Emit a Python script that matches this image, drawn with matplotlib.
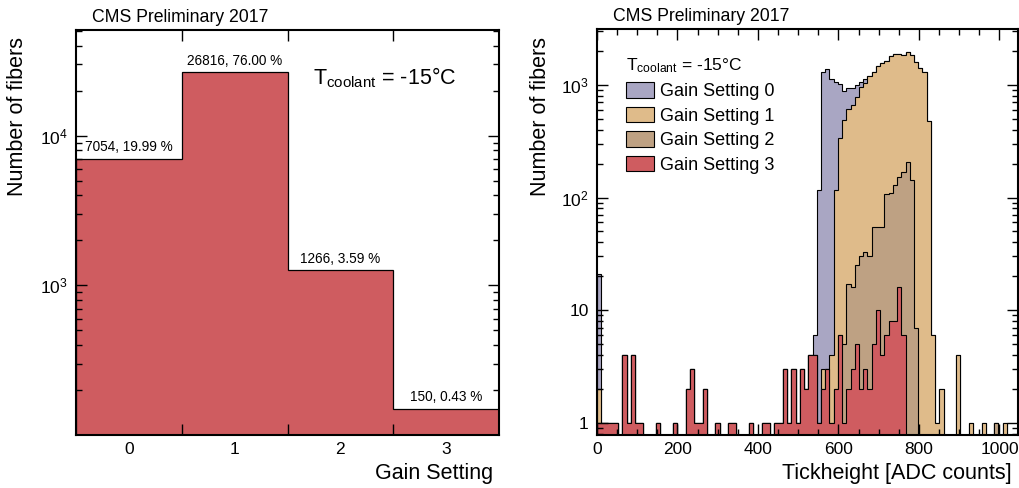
import numpy as np
import matplotlib
matplotlib.use("Agg")
import matplotlib.pyplot as plt
from matplotlib.patches import Patch
from matplotlib.ticker import FixedLocator, FixedFormatter, LogLocator, NullFormatter, MultipleLocator

plt.rcParams["font.family"] = ["Liberation Sans", "DejaVu Sans"]
plt.rcParams["mathtext.fontset"] = "custom"
plt.rcParams["mathtext.rm"] = "Liberation Sans"
plt.rcParams["mathtext.it"] = "Liberation Sans:italic"
plt.rcParams["mathtext.bf"] = "Liberation Sans:bold"

# left panel: number of fibers per gain setting
gain_settings = [0, 1, 2, 3]
fiber_counts = [7054, 26816, 1266, 150]

# right panel: tickheight histograms, 100 bins from 0 to 1050 ADC counts
tick_lo, tick_hi, n_bins = 0, 1050, 100
gain0_counts = [
    19, 0, 0, 0, 0, 0, 0, 0, 0, 0,
    0, 0, 0, 0, 0, 0, 0, 0, 0, 0,
    0, 0, 0, 0, 0, 0, 0, 0, 0, 0,
    0, 0, 0, 0, 0, 0, 0, 0, 0, 0,
    0, 0, 0, 0, 0, 0, 0, 0, 0, 0,
    0, 2, 116, 1287, 1367, 1126, 933, 674, 401, 323,
    277, 203, 96, 73, 0, 0, 0, 0, 0, 0,
    0, 0, 0, 0, 0, 0, 0, 0, 0, 0,
    0, 0, 0, 0, 0, 0, 0, 0, 0, 0,
    0, 0, 0, 0, 0, 0, 0, 0, 0, 0,
]
gain1_counts = [
    1, 0, 0, 0, 0, 0, 0, 0, 0, 0,
    0, 0, 0, 0, 0, 0, 0, 0, 0, 0,
    0, 0, 0, 0, 0, 0, 0, 0, 0, 0,
    0, 0, 0, 0, 0, 0, 0, 0, 0, 0,
    0, 0, 0, 0, 0, 0, 0, 0, 0, 0,
    0, 0, 0, 1, 0, 3, 115, 330, 484, 590,
    647, 762, 934, 1014, 1160, 1255, 1405, 1495, 1527, 1690,
    1752, 1727, 1682, 1734, 1707, 1600, 1403, 1292, 478, 6,
    1, 2, 0, 0, 0, 4, 0, 0, 1, 0,
    0, 1, 0, 0, 0, 0, 1, 0, 0, 0,
]
gain2_counts = [
    0, 0, 0, 0, 0, 0, 0, 0, 0, 0,
    0, 0, 0, 0, 0, 0, 0, 0, 0, 0,
    0, 0, 0, 0, 0, 0, 0, 0, 0, 0,
    0, 0, 0, 0, 0, 0, 0, 0, 0, 0,
    0, 0, 0, 0, 0, 0, 0, 0, 0, 0,
    0, 0, 0, 0, 0, 0, 0, 0, 4, 15,
    13, 20, 28, 30, 28, 50, 45, 51, 102, 102,
    120, 137, 162, 206, 143, 7, 0, 0, 0, 0,
    0, 0, 0, 0, 0, 0, 0, 0, 0, 0,
    0, 0, 0, 0, 1, 0, 0, 0, 0, 0,
]
gain3_counts = [
    1, 1, 1, 1, 1, 0, 4, 1, 4, 1,
    1, 0, 0, 0, 1, 0, 0, 0, 1, 0,
    0, 2, 3, 1, 1, 2, 0, 0, 1, 0,
    0, 1, 1, 0, 0, 0, 1, 0, 0, 1,
    1, 0, 1, 1, 3, 1, 3, 1, 3, 2,
    4, 4, 1, 2, 3, 1, 2, 6, 1, 2,
    3, 5, 2, 3, 2, 5, 10, 4, 6, 8,
    8, 16, 6, 0, 0, 0, 0, 0, 0, 0,
    0, 0, 0, 0, 0, 0, 0, 0, 0, 0,
    0, 0, 0, 0, 0, 0, 0, 0, 0, 0,
]
legend_labels = ["Gain Setting 0", "Gain Setting 1", "Gain Setting 2", "Gain Setting 3"]
colours = ["#a9a6c3", "#dfbb8a", "#bea183", "#cf5c60"]

t_label = r"$\mathrm{T}_{\mathrm{coolant}}$ = -15°C"

W, H = 1019, 488
fig = plt.figure(figsize=(W / 100, H / 100), dpi=100)
ax1 = fig.add_axes([76 / W, 53 / H, 423 / W, 405 / H])
ax2 = fig.add_axes([597 / W, 53 / H, 421 / W, 406 / H])


def root_style(ax):
    for sp in ax.spines.values():
        sp.set_linewidth(1.5)
    ax.tick_params(which="both", direction="in", top=True, right=True, width=1.0,
                   labelsize=12.5)
    ax.tick_params(which="major", length=8)
    ax.tick_params(which="minor", length=4.5)
    ax.tick_params(axis="x", which="both", pad=5)
    ax.tick_params(axis="y", which="both", pad=6)


# ---- left: gain setting distribution
edges1 = np.arange(len(gain_settings) + 1) - 0.5
ax1.stairs(fiber_counts, edges1, baseline=1, fill=True,
           facecolor=colours[3], edgecolor="none")
ax1.stairs(fiber_counts, edges1, baseline=1, color="black", lw=0.9)
ax1.set_yscale("log")
ax1.set_xlim(-0.5, 3.5)
ax1.set_ylim(100, 51000)
total = sum(fiber_counts)
for g, c in zip(gain_settings, fiber_counts):
    ax1.annotate(f"{c}, {100 * c / total:.2f} %", (g, c), xytext=(0, 3),
                 textcoords="offset points", ha="center", va="bottom", fontsize=9.8)
root_style(ax1)
ax1.set_xticks(edges1[1:-1])
ax1.set_xticklabels([])
ax1.set_xticks(gain_settings, minor=True)
ax1.set_xticklabels([str(g) for g in gain_settings], minor=True)
ax1.tick_params(axis="x", which="minor", length=0, labelsize=12.5)
ax1.yaxis.set_major_locator(FixedLocator([1e3, 1e4]))
ax1.yaxis.set_major_formatter(FixedFormatter([r"$10^{3}$", r"$10^{4}$"]))
ax1.yaxis.set_minor_locator(LogLocator(base=10, subs=np.arange(2, 10), numticks=20))
ax1.yaxis.set_minor_formatter(NullFormatter())
ax1.text(0.56, 0.866, t_label, transform=ax1.transAxes, fontsize=15.5, va="baseline")

# ---- right: tickheight, stacked histograms
edges2 = np.linspace(tick_lo, tick_hi, n_bins + 1)
stack = np.cumsum(np.vstack([gain3_counts, gain2_counts, gain1_counts, gain0_counts]), axis=0)
# draw the full stack first, gain 3 (bottom layer) last
for layer, col in zip(stack[::-1], colours):
    shown = np.where(layer > 0, layer, 0.1)
    ax2.stairs(shown, edges2, baseline=0.1, fill=True, facecolor=col, edgecolor="none")
    ax2.stairs(shown, edges2, baseline=0.1, color="black", lw=0.8)
ax2.set_yscale("log")
ax2.set_xlim(0, 1046)
ax2.set_ylim(0.78, 3130)
root_style(ax2)
ax2.xaxis.set_major_locator(FixedLocator([0, 200, 400, 600, 800, 1000]))
ax2.xaxis.set_minor_locator(MultipleLocator(50))
ax2.yaxis.set_major_locator(FixedLocator([1, 10, 100, 1000]))
ax2.yaxis.set_major_formatter(FixedFormatter(["1", "10", r"$10^{2}$", r"$10^{3}$"]))
ax2.yaxis.set_minor_locator(LogLocator(base=10, subs=np.arange(2, 10), numticks=20))
ax2.yaxis.set_minor_formatter(NullFormatter())

handles = [Patch(facecolor=c, edgecolor="black", lw=0.8) for c in colours]
leg = ax2.legend(handles, legend_labels, loc="upper left", bbox_to_anchor=(0.07, 0.932),
                 frameon=False, fontsize=13, title=t_label, title_fontsize=12.5,
                 alignment="left", handlelength=1.55, handleheight=0.95,
                 handletextpad=0.3, labelspacing=0.36, borderpad=0, borderaxespad=0)
leg._legend_box.sep = 5

# ---- texts around the axes
for ax in (ax1, ax2):
    ax.text(0.038, 1.032, "CMS Preliminary 2017", transform=ax.transAxes,
            fontsize=12.7, va="center", ha="left")
fig.text(18 / W, 1 - 37 / H, "Number of fibers", rotation=90, fontsize=15.5, ha="center", va="top")
fig.text(540 / W, 1 - 37 / H, "Number of fibers", rotation=90, fontsize=15.5, ha="center", va="top")
fig.text(493 / W, 1 - 474 / H, "Gain Setting", fontsize=15.5, ha="right", va="center")
fig.text(1012 / W, 1 - 474 / H, "Tickheight [ADC counts]", fontsize=15.5, ha="right", va="center")

fig.savefig("out.png", dpi=100)
